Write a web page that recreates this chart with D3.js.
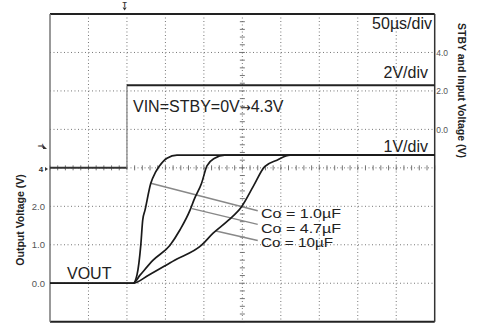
<!DOCTYPE html>
<html>
<head>
<meta charset="utf-8">
<script src="https://cdn.jsdelivr.net/npm/d3@7"></script>
<style>
  html, body { margin: 0; padding: 0; background: #fff; }
  svg { display: block; }
  text { font-family: "Liberation Sans", Arial, sans-serif; }
</style>
</head>
<body>
<svg id="chart" width="486" height="329"></svg>
<script>
// Start-up waveforms: STBY / input step and output voltage for three output capacitors
const stbyTime = [0, 100, 100, 500];          // µs
const stbyVolt = [0, 0, 4.3, 4.3];             // V

const co1Time = [0, 108, 113, 118, 120.5, 123.5, 131, 137, 142, 152, 165, 182, 500];
const co1Volt = [0, 0, 0.21, 0.99, 1.64, 1.90, 2.60, 2.88, 3.04, 3.25, 3.33, 3.33, 3.33];

const co47Time = [0, 108, 117, 134, 156, 169, 182, 187, 197, 204, 214, 227, 500];
const co47Volt = [0, 0, 0.21, 0.60, 0.99, 1.39, 1.90, 2.16, 2.60, 3.05, 3.25, 3.33, 3.33];

const co10Time = [0, 108, 128, 162, 197, 212, 232, 249, 264, 279, 295, 312, 500];
const co10Volt = [0, 0, 0.21, 0.60, 0.99, 1.30, 1.64, 1.99, 2.51, 3.03, 3.20, 3.33, 3.33];

const coLabels = ["Co = 1.0µF", "Co = 4.7µF", "Co = 10µF"];
// leader lines on the output-voltage scale: start on each curve, end at its label
const leaderFrom = [[131, 2.60], [184.6, 1.94], [215.7, 1.36]];
const leaderTo   = [[270, 1.885], [270, 1.53], [270, 1.11]];

const leftTicks = [0, 1, 2];
const rightTicks = [0, 2, 4];

const svg = d3.select("#chart");
const L = 50, R = 434.7, T = 14, B = 321.7;

const x = d3.scaleLinear().domain([0, 500]).range([L, R]);        // 50 µs/div
const yOut = d3.scaleLinear().domain([-1, 7]).range([B, T]);      // 1 V/div
const yIn = d3.scaleLinear().domain([-10, 6]).range([B, T]);      // 2 V/div (right axis)
const yStby = d3.scaleLinear().domain([-8, 8]).range([B, T]);     // STBY trace, ground at centre

// dotted graticule
const g = svg.append("g");
d3.range(50, 500, 50).forEach(t => {
  g.append("line").attr("x1", x(t)).attr("x2", x(t)).attr("y1", T).attr("y2", B)
    .attr("stroke", "#777").attr("stroke-width", 1).attr("stroke-dasharray", "1,2.5");
});
d3.range(0, 7, 1).forEach(v => {
  g.append("line").attr("x1", L).attr("x2", R).attr("y1", yOut(v)).attr("y2", yOut(v))
    .attr("stroke", "#777").attr("stroke-width", 1).attr("stroke-dasharray", "1,2.5");
});

// minor ticks on the centre cross
const cx = x(250), cy = yOut(3);
d3.range(0, 500.1, 10).forEach(t => {
  g.append("line").attr("x1", x(t)).attr("x2", x(t)).attr("y1", cy - 2.5).attr("y2", cy + 2.5)
    .attr("stroke", "#666").attr("stroke-width", 0.9);
});
d3.range(-1, 7.01, 0.2).forEach(v => {
  g.append("line").attr("x1", cx - 2.5).attr("x2", cx + 2.5).attr("y1", yOut(v)).attr("y2", yOut(v))
    .attr("stroke", "#666").attr("stroke-width", 0.9);
});

// frame
svg.append("line").attr("x1", L).attr("x2", R).attr("y1", T).attr("y2", T).attr("stroke", "#222").attr("stroke-width", 2);
svg.append("line").attr("x1", L).attr("x2", R).attr("y1", B).attr("y2", B).attr("stroke", "#222").attr("stroke-width", 2);
svg.append("line").attr("x1", R).attr("x2", R).attr("y1", T).attr("y2", B).attr("stroke", "#333").attr("stroke-width", 1.5);
svg.append("line").attr("x1", L).attr("x2", L).attr("y1", T).attr("y2", B).attr("stroke", "#777").attr("stroke-width", 1.5);

// traces
const line = (ys) => d3.line().x(d => x(d[0])).y(d => ys(d[1]));
const zip = (a, b) => a.map((t, i) => [t, b[i]]);

// STBY step: grey rising edge, dark levels
const stby = zip(stbyTime, stbyVolt);
svg.append("path").datum(stby.slice(0, 2)).attr("d", line(yStby)).attr("fill", "none").attr("stroke", "#333").attr("stroke-width", 2);
svg.append("path").datum(stby.slice(1, 3)).attr("d", line(yStby)).attr("fill", "none").attr("stroke", "#888").attr("stroke-width", 1.3);
svg.append("path").datum(stby.slice(2)).attr("d", line(yStby)).attr("fill", "none").attr("stroke", "#222").attr("stroke-width", 2);

// leader lines
leaderFrom.forEach((p, i) => {
  svg.append("path").datum([p, leaderTo[i]]).attr("d", line(yOut)).attr("fill", "none")
    .attr("stroke", "#888").attr("stroke-width", 1.5);
});

const curveLine = d3.line().x(d => x(d[0])).y(d => yOut(d[1])).curve(d3.curveMonotoneX);
[[co1Time, co1Volt], [co47Time, co47Volt], [co10Time, co10Volt]].forEach(([t, v]) => {
  svg.append("path").datum(zip(t, v)).attr("d", curveLine).attr("fill", "none")
    .attr("stroke", "#1a1a1a").attr("stroke-width", 1.7).attr("stroke-linejoin", "round");
});

// capacitor labels (tightly stacked, stretched to a wide face)
coLabels.forEach((s, i) => {
  svg.append("text").attr("x", 261).attr("y", [218.3, 232.6, 246.9][i])
    .attr("font-size", 13.5).attr("fill", "#222")
    .attr("textLength", [80, 80, 72][i]).attr("lengthAdjust", "spacingAndGlyphs")
    .text(s);
});

// scale / annotation text
const ann = [
  ["50µs/div", 432, 29, "end"],
  ["2V/div", 428, 78, "end"],
  ["1V/div", 428, 152, "end"],
  ["VOUT", 67, 278.5, "start"]
];
ann.forEach(([s, ax, ay, anchor]) => {
  svg.append("text").attr("x", ax).attr("y", ay).attr("text-anchor", anchor)
    .attr("font-size", 16).attr("fill", "#222").text(s);
});
const vin = svg.append("text").attr("x", 133).attr("y", 111.5).attr("font-size", 16).attr("fill", "#222");
vin.append("tspan").text("VIN=STBY=0V");
vin.append("tspan").attr("font-family", "DejaVu Sans").attr("font-size", 13).text("→");
vin.append("tspan").text("4.3V");

// axis tick labels
const leftAxis = d3.axisLeft(yOut).tickValues(leftTicks).tickFormat(d3.format(".1f")).tickSize(0).tickPadding(5);
const gl = svg.append("g").attr("transform", `translate(${L},0)`).call(leftAxis);
gl.select(".domain").remove();
gl.selectAll("text").attr("font-size", 9.5).attr("fill", "#555").attr("font-family", "Liberation Sans, Arial, sans-serif");

const rightAxis = d3.axisRight(yIn).tickValues(rightTicks).tickFormat(d3.format(".1f")).tickSize(0).tickPadding(1.5);
const gr = svg.append("g").attr("transform", `translate(${R},0)`).call(rightAxis);
gr.select(".domain").remove();
gr.selectAll("text").attr("font-size", 8.5).attr("fill", "#555").attr("font-family", "Liberation Sans, Arial, sans-serif");

// axis titles
svg.append("text").attr("transform", `translate(24,${220}) rotate(-90)`).attr("text-anchor", "middle")
  .attr("font-size", 10.5).attr("font-weight", "bold").attr("fill", "#222").text("Output Voltage (V)");
svg.append("text").attr("transform", `translate(457.5,23) rotate(90)`).attr("text-anchor", "start")
  .attr("font-size", 10.5).attr("font-weight", "bold").attr("fill", "#222").text("STBY and Input Voltage (V)");

// scope markers: trigger position and channel levels
const mk = svg.append("g").attr("fill", "#333");
mk.append("text").attr("x", x(97)).attr("y", 7).attr("text-anchor", "middle").attr("font-size", 7).attr("font-weight", "bold").text("T");
mk.append("path").attr("d", `M${x(97) - 2},7.5 L${x(97) + 2},7.5 L${x(97)},10.5 Z`);
mk.append("text").attr("x", 40).attr("y", 148).attr("text-anchor", "middle").attr("font-size", 7).attr("font-weight", "bold")
  .attr("transform", "rotate(90,40,146)").text("T");
mk.append("path").attr("d", `M43,145 L47,149 L43,149 Z`);
mk.append("text").attr("x", 41).attr("y", 172).attr("text-anchor", "middle").attr("font-size", 8).attr("font-weight", "bold").text("4");
mk.append("path").attr("d", `M45,167 L48,169 L45,171 Z`);
</script>
</body>
</html>
